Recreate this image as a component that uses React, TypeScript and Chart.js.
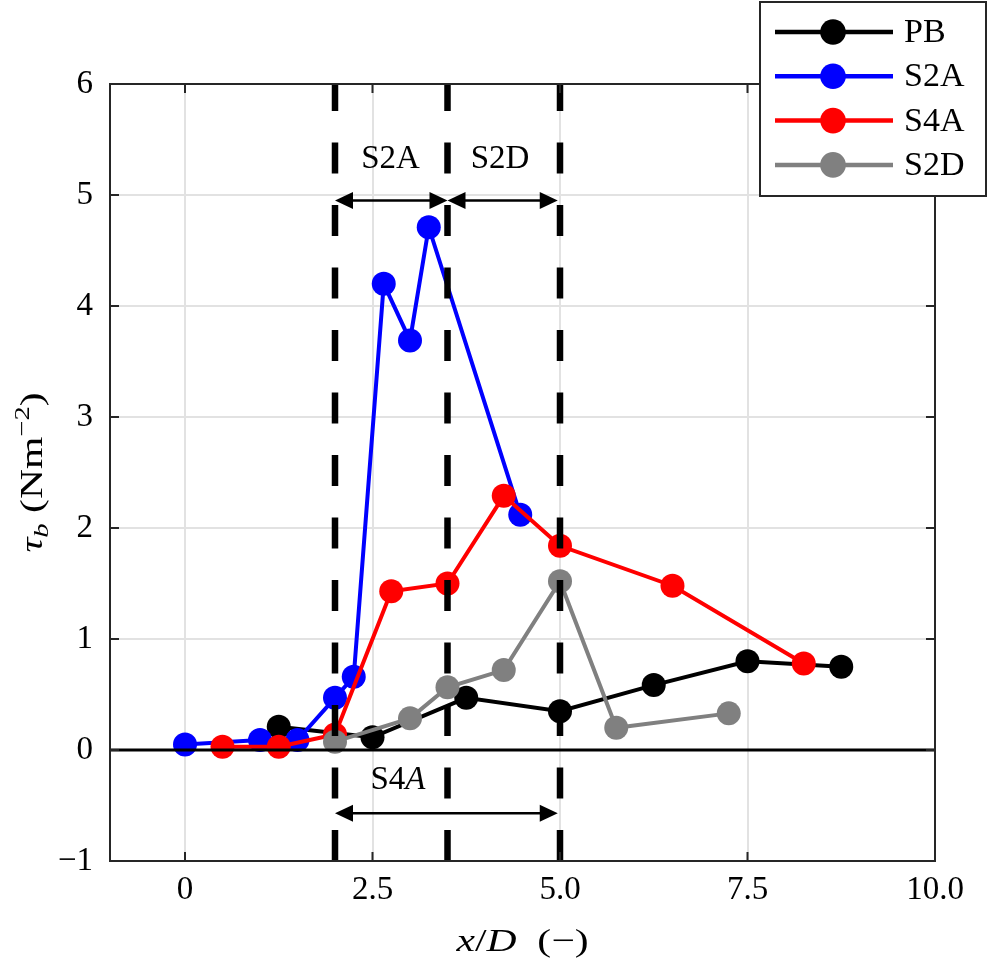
import React, { useEffect, useRef } from 'react';
import { Chart, registerables } from 'chart.js';

Chart.register(...registerables);

// series data (x/D, tau_b)
const PB_X = [1.25, 2.5, 3.75, 5.0, 6.25, 7.5, 8.75];
const PB_Y = [0.21, 0.115, 0.47, 0.35, 0.585, 0.8, 0.75];

const S2A_X = [0, 1.0, 1.5, 2.0, 2.25, 2.65, 3.0, 3.25, 4.47];
const S2A_Y = [0.05, 0.09, 0.09, 0.47, 0.66, 4.2, 3.69, 4.71, 2.12];

const S4A_X = [0.5, 1.25, 2.0, 2.75, 3.5, 4.25, 5.0, 6.5, 8.25];
const S4A_Y = [0.03, 0.03, 0.14, 1.43, 1.5, 2.29, 1.84, 1.48, 0.78];

const S2D_X = [2.0, 3.0, 3.5, 4.25, 5.0, 5.75, 7.25];
const S2D_Y = [0.075, 0.285, 0.565, 0.72, 1.52, 0.2, 0.33];

const SERIES_NAMES = ['PB', 'S2A', 'S4A', 'S2D'];

// axis ticks
const X_TICKS = [0, 2.5, 5, 7.5, 10];
const Y_TICKS = [-1, 0, 1, 2, 3, 4, 5, 6];

// region markers
const DIVIDER_X = [2, 3.5, 5];
const ZONE_LABELS = [
  { text: 'S2A', x: 2.74, y: 5.32 },
  { text: 'S2D', x: 4.2, y: 5.32 },
];
const ZONE_ARROWS = [
  { from: 2, to: 3.5, y: 4.95 },
  { from: 3.5, to: 4.97, y: 4.95 },
  { from: 2, to: 4.97, y: -0.57 },
];
const S4A_LABEL = { x: 2.84, y: -0.27 };

const SERIF = "'Liberation Serif', 'DejaVu Serif', serif";
const FRAME = '#262626';
const TITLE_STRETCH = 1.3;

const toPoints = (xs: number[], ys: number[]) => xs.map((x, i) => ({ x, y: ys[i] }));

const arrowHead = (ctx: CanvasRenderingContext2D, x: number, y: number, dir: number) => {
  ctx.beginPath();
  ctx.moveTo(x, y);
  ctx.lineTo(x - dir * 18, y - 8.5);
  ctx.lineTo(x - dir * 18, y + 8.5);
  ctx.closePath();
  ctx.fill();
};

// draws a run of differently styled pieces centred on 0 along the baseline
const drawRun = (ctx: CanvasRenderingContext2D, parts: { t: string; f: string; dy: number }[]) => {
  let total = 0;
  parts.forEach((p) => {
    ctx.font = p.f;
    total += ctx.measureText(p.t).width;
  });
  let cx = -total / 2;
  parts.forEach((p) => {
    ctx.font = p.f;
    ctx.fillText(p.t, cx, p.dy);
    cx += ctx.measureText(p.t).width;
  });
};

const annotations = {
  id: 'annotations',
  afterDatasetsDraw(chart: any) {
    const { ctx, chartArea, scales } = chart;
    const xs = scales.x;
    const ys = scales.y;
    ctx.save();

    // zero line
    ctx.strokeStyle = '#000';
    ctx.lineWidth = 3;
    ctx.beginPath();
    ctx.moveTo(chartArea.left, ys.getPixelForValue(0));
    ctx.lineTo(chartArea.right, ys.getPixelForValue(0));
    ctx.stroke();

    // dashed dividers, drawn bottom-up
    ctx.lineWidth = 6.5;
    ctx.setLineDash([31, 31.5]);
    DIVIDER_X.forEach((v) => {
      const px = xs.getPixelForValue(v);
      ctx.beginPath();
      ctx.moveTo(px, chartArea.bottom);
      ctx.lineTo(px, chartArea.top);
      ctx.stroke();
    });
    ctx.setLineDash([]);

    // double arrows
    ctx.lineWidth = 2.5;
    ctx.fillStyle = '#000';
    ZONE_ARROWS.forEach((a) => {
      const x1 = xs.getPixelForValue(a.from);
      const x2 = xs.getPixelForValue(a.to);
      const py = ys.getPixelForValue(a.y);
      ctx.beginPath();
      ctx.moveTo(x1 + 10, py);
      ctx.lineTo(x2 - 10, py);
      ctx.stroke();
      arrowHead(ctx, x1, py, -1);
      arrowHead(ctx, x2, py, 1);
    });

    // zone labels
    ctx.fillStyle = '#000';
    ctx.textBaseline = 'middle';
    ctx.textAlign = 'center';
    ctx.font = `33px ${SERIF}`;
    ZONE_LABELS.forEach((l) => {
      ctx.fillText(l.text, xs.getPixelForValue(l.x), ys.getPixelForValue(l.y));
    });

    // S4A with italic A
    ctx.textAlign = 'left';
    ctx.translate(xs.getPixelForValue(S4A_LABEL.x), ys.getPixelForValue(S4A_LABEL.y));
    drawRun(ctx, [
      { t: 'S4', f: `33px ${SERIF}`, dy: 0 },
      { t: 'A', f: `italic 33px ${SERIF}`, dy: 0 },
    ]);

    ctx.restore();
  },
  afterDraw(chart: any) {
    const { ctx, chartArea, scales } = chart;
    const { left, right, top, bottom } = chartArea;
    ctx.save();

    // inner tick marks
    ctx.strokeStyle = FRAME;
    ctx.lineWidth = 2;
    ctx.beginPath();
    X_TICKS.forEach((v) => {
      const px = scales.x.getPixelForValue(v);
      ctx.moveTo(px, bottom);
      ctx.lineTo(px, bottom - 9);
      ctx.moveTo(px, top);
      ctx.lineTo(px, top + 9);
    });
    Y_TICKS.forEach((v) => {
      const py = scales.y.getPixelForValue(v);
      ctx.moveTo(left, py);
      ctx.lineTo(left + 9, py);
      ctx.moveTo(right, py);
      ctx.lineTo(right - 9, py);
    });
    ctx.stroke();

    // frame
    ctx.strokeRect(left, top, right - left, bottom - top);

    // x title: x/D (−)
    ctx.fillStyle = '#000';
    ctx.textBaseline = 'alphabetic';
    ctx.textAlign = 'left';
    ctx.translate((left + right) / 2, 951);
    ctx.scale(TITLE_STRETCH, 1);
    drawRun(ctx, [
      { t: 'x', f: `italic 32px ${SERIF}`, dy: 0 },
      { t: '/', f: `32px ${SERIF}`, dy: 0 },
      { t: 'D', f: `italic 32px ${SERIF}`, dy: 0 },
      { t: '  (\u2212)', f: `32px ${SERIF}`, dy: 0 },
    ]);
    ctx.setTransform(1, 0, 0, 1, 0, 0);

    // y title: tau_b (Nm^-2)
    ctx.translate(42, (top + bottom) / 2);
    ctx.rotate(-Math.PI / 2);
    ctx.scale(TITLE_STRETCH, 1);
    drawRun(ctx, [
      { t: '\u03c4', f: `italic 32px ${SERIF}`, dy: 0 },
      { t: 'b', f: `italic 22px ${SERIF}`, dy: 6 },
      { t: ' (Nm', f: `32px ${SERIF}`, dy: 0 },
      { t: '\u22122', f: `22px ${SERIF}`, dy: -13 },
      { t: ')', f: `32px ${SERIF}`, dy: 0 },
    ]);
    ctx.setTransform(1, 0, 0, 1, 0, 0);

    // legend
    const bx = 760;
    const by = 2;
    ctx.fillStyle = '#fff';
    ctx.fillRect(bx, by, 226, 194);
    ctx.strokeStyle = FRAME;
    ctx.lineWidth = 2;
    ctx.strokeRect(bx, by, 226, 194);
    ctx.textBaseline = 'middle';
    ctx.font = `34px ${SERIF}`;
    chart.data.datasets.forEach((ds: any, i: number) => {
      const ry = 32 + i * 44.3;
      ctx.strokeStyle = ds.borderColor;
      ctx.lineWidth = 4.5;
      ctx.beginPath();
      ctx.moveTo(775, ry);
      ctx.lineTo(893, ry);
      ctx.stroke();
      ctx.fillStyle = ds.backgroundColor;
      ctx.beginPath();
      ctx.arc(833, ry, 12.8, 0, Math.PI * 2);
      ctx.fill();
      ctx.fillStyle = '#000';
      ctx.fillText(ds.label, 904, ry + 1);
    });

    ctx.restore();
  },
};

const COLORS = ['#000000', '#0000ff', '#ff0000', '#808080'];

const App = () => {
  const chartRef = useRef<HTMLCanvasElement>(null);
  const chartInstance = useRef<Chart | null>(null);

  useEffect(() => {
    if (!chartRef.current) return;
    if (chartInstance.current) chartInstance.current.destroy();

    const seriesData = [
      toPoints(PB_X, PB_Y),
      toPoints(S2A_X, S2A_Y),
      toPoints(S4A_X, S4A_Y),
      toPoints(S2D_X, S2D_Y),
    ];

    chartInstance.current = new Chart(chartRef.current, {
      type: 'line',
      data: {
        datasets: seriesData.map((d, i) => ({
          label: SERIES_NAMES[i],
          data: d,
          borderColor: COLORS[i],
          backgroundColor: COLORS[i],
          borderWidth: 4,
          pointRadius: 12,
          pointBorderWidth: 0,
          pointHoverRadius: 12,
          tension: 0,
          order: 4 - i,
        })),
      },
      plugins: [annotations],
      options: {
        responsive: false,
        devicePixelRatio: 1,
        animation: false,
        layout: { padding: { top: 84, right: 53, left: 0, bottom: 0 } },
        plugins: {
          legend: { display: false },
          tooltip: { enabled: false },
        },
        scales: {
          x: {
            type: 'linear',
            min: -1,
            max: 10,
            afterBuildTicks: (scale: any) => {
              scale.ticks = X_TICKS.map((v) => ({ value: v }));
            },
            afterFit: (scale: any) => {
              scale.height = 102;
            },
            border: { display: false },
            grid: {
              drawTicks: false,
              color: '#e2e2e2',
              lineWidth: 2,
            },
            ticks: {
              padding: 10,
              color: '#000',
              font: { family: SERIF, size: 33 },
              maxRotation: 0,
              callback: (v: any) => (v === 0 ? '0' : Number(v).toFixed(1)),
            },
          },
          y: {
            type: 'linear',
            min: -1,
            max: 6,
            afterBuildTicks: (scale: any) => {
              scale.ticks = Y_TICKS.map((v) => ({ value: v }));
            },
            afterFit: (scale: any) => {
              scale.width = 110;
            },
            border: { display: false },
            grid: {
              drawTicks: false,
              color: (c: any) => (c.tick && c.tick.value === 0 ? 'rgba(0,0,0,0)' : '#e2e2e2'),
              lineWidth: 2,
            },
            ticks: {
              padding: 17,
              color: '#000',
              font: { family: SERIF, size: 33 },
              callback: (v: any) => (v < 0 ? '\u2212' + Math.abs(v) : String(v)),
            },
          },
        },
      },
    });

    return () => {
      if (chartInstance.current) {
        chartInstance.current.destroy();
        chartInstance.current = null;
      }
    };
  }, []);

  return (
    <div style={{ position: 'absolute', left: 0, top: 0, width: 988, height: 963, background: '#fff' }}>
      <canvas ref={chartRef} width={988} height={963} style={{ display: 'block' }}></canvas>
    </div>
  );
};

export default App;
